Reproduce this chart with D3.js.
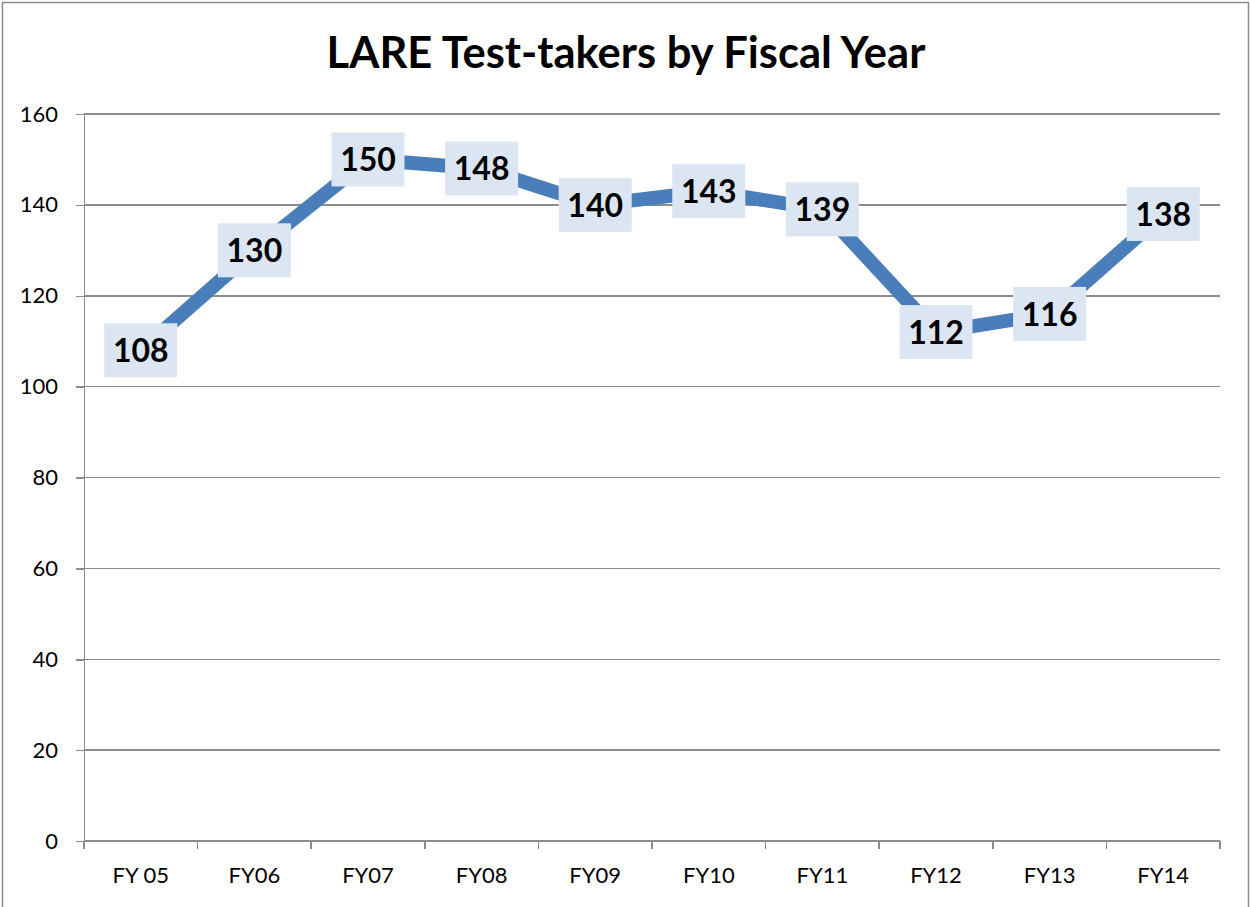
<!DOCTYPE html>
<html>
<head>
  <meta charset="utf-8">
  <title>LARE Test-takers by Fiscal Year</title>
  <script src="https://d3js.org/d3.v7.min.js"></script>
  <style>
    body { margin: 0; background: #fff; }
    text { font-family: Lato, "Open Sans", sans-serif; fill: #000; }
    .grid line { stroke: #8c8c8c; stroke-width: 1.5px; shape-rendering: crispEdges; }
    .axis path, .axis line { stroke: #8c8c8c; stroke-width: 1.5px; shape-rendering: crispEdges; }
  </style>
</head>
<body>
<script>
// data
var years = ["FY 05", "FY06", "FY07", "FY08", "FY09", "FY10", "FY11", "FY12", "FY13", "FY14"];
var takers = [108, 130, 150, 148, 140, 143, 139, 112, 116, 138];
var yTicks = [0, 20, 40, 60, 80, 100, 120, 140, 160];

var W = 1250, H = 907;
var plot = {left: 84, right: 1220, top: 114, bottom: 841};

var svg = d3.select("body").append("svg")
    .attr("width", W)
    .attr("height", H);

// chart frame
svg.append("rect")
    .attr("x", 2.5).attr("y", 2.5)
    .attr("width", W - 4).attr("height", H + 10)
    .attr("fill", "#fff")
    .attr("stroke", "#8c8c8c")
    .attr("stroke-width", 1.5);

var x = d3.scaleBand()
    .domain(years)
    .range([plot.left, plot.right]);

var y = d3.scaleLinear()
    .domain([0, 160])
    .range([plot.bottom, plot.top]);

// horizontal gridlines
svg.append("g").attr("class", "grid")
  .selectAll("line")
  .data(yTicks.filter(function(d) { return d > 0; }))
  .enter().append("line")
    .attr("x1", plot.left).attr("x2", plot.right)
    .attr("y1", function(d) { return y(d); })
    .attr("y2", function(d) { return y(d); });

// y axis
var yAxis = svg.append("g")
    .attr("class", "axis")
    .attr("transform", "translate(" + plot.left + ",0)")
    .call(d3.axisLeft(y).tickValues(yTicks).tickSize(8).tickSizeOuter(0).tickPadding(18));
yAxis.selectAll("text").style("font-size", "22px");

// x axis with ticks on band boundaries
var xAxis = svg.append("g")
    .attr("class", "axis")
    .attr("transform", "translate(0," + plot.bottom + ")")
    .call(d3.axisBottom(x).tickSize(0).tickPadding(26));
xAxis.select(".domain").attr("d", "M" + plot.left + ",0H" + plot.right);
xAxis.selectAll("text").style("font-size", "22px");
var bounds = years.map(function(d) { return x(d); }).concat([plot.right]);
xAxis.selectAll(".bound")
    .data(bounds)
  .enter().append("line")
    .attr("class", "bound")
    .attr("x1", function(d) { return d; }).attr("x2", function(d) { return d; })
    .attr("y1", 0).attr("y2", 8);

// title
svg.append("text")
    .attr("x", 626)
    .attr("y", 68)
    .attr("text-anchor", "middle")
    .style("font-size", "43.5px")
    .style("font-weight", "bold")
    .text("LARE Test-takers by Fiscal Year");

var cx = function(d, i) { return x(years[i]) + x.bandwidth() / 2; };

// series line
var line = d3.line()
    .x(function(d, i) { return cx(d, i); })
    .y(function(d) { return y(d); });

svg.append("path")
    .datum(takers)
    .attr("fill", "none")
    .attr("stroke", "#4a7ebb")
    .attr("stroke-width", 14)
    .attr("stroke-linejoin", "round")
    .attr("d", line);

// data labels
var lab = svg.append("g").selectAll("g")
    .data(takers)
  .enter().append("g")
    .attr("transform", function(d, i) { return "translate(" + cx(d, i) + "," + y(d) + ")"; });

lab.append("rect")
    .attr("x", -36.5).attr("y", -27)
    .attr("width", 73).attr("height", 54)
    .attr("fill", "#dce6f2");

lab.append("text")
    .attr("text-anchor", "middle")
    .attr("dy", "0.37em")
    .style("font-size", "32px")
    .style("font-weight", "bold")
    .text(function(d) { return d; });
</script>
</body>
</html>
